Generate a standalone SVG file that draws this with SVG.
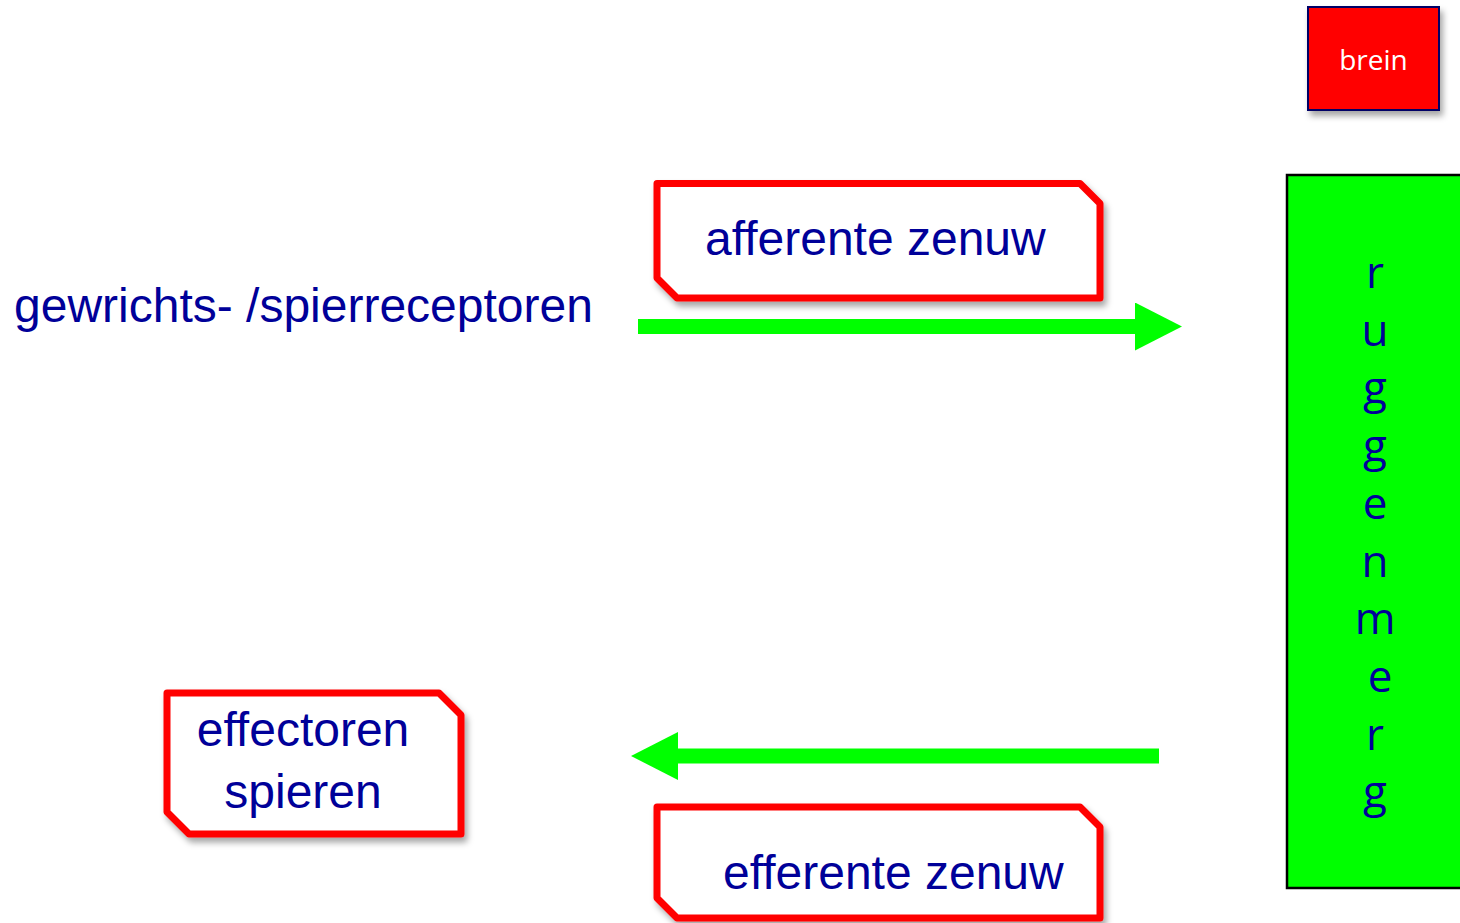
<svg xmlns="http://www.w3.org/2000/svg" width="1460" height="923" viewBox="0 0 1460 923">
  <defs>
    <filter id="shadow" x="-10%" y="-10%" width="130%" height="140%">
      <feDropShadow dx="3" dy="5" stdDeviation="3" flood-color="#000" flood-opacity="0.35"/>
    </filter>
    <marker id="head" viewBox="0 0 47 48" markerWidth="47" markerHeight="48" markerUnits="userSpaceOnUse" refX="0" refY="24" orient="auto">
      <path d="M0,0 L47,24 L0,48 Z" fill="#00FF00"/>
    </marker>
  </defs>
  <style>
    .label { font-family: "Liberation Sans", Arial, sans-serif; font-size: 48px; fill: #000099; }
    .callout { fill: #FFFFFF; stroke: #FF0000; stroke-width: 7; stroke-linejoin: round; }
    .nerve { stroke: #00FF00; stroke-width: 15; fill: none; }
    .cord { font-family: "Open Sans", sans-serif; font-size: 44px; fill: #000099; text-anchor: middle; }
  </style>

  <rect width="1460" height="923" fill="#FFFFFF"/>

  <!-- brain -->
  <g id="brein">
    <rect x="1308" y="7" width="131" height="103" fill="#FF0000" stroke="#000066" stroke-width="2" filter="url(#shadow)"/>
    <text x="1373.5" y="70" font-family="Open Sans, sans-serif" font-size="28" fill="#FFFFFF" text-anchor="middle">brein</text>
  </g>

  <!-- spinal cord -->
  <g id="ruggenmerg">
    <rect x="1287" y="175" width="180" height="713" fill="#00FF00" stroke="#000000" stroke-width="2.5"/>
    <text class="cord" x="1375" y="288">r</text>
    <text class="cord" x="1375" y="345.7">u</text>
    <text class="cord" x="1375" y="403.4">g</text>
    <text class="cord" x="1375" y="461.1">g</text>
    <text class="cord" x="1375" y="518.8">e</text>
    <text class="cord" x="1375" y="576.5">n</text>
    <text class="cord" x="1375" y="634.2">m</text>
    <text class="cord" x="1380" y="691.9">e</text>
    <text class="cord" x="1375" y="749.6">r</text>
    <text class="cord" x="1375" y="807.3">g</text>
  </g>

  <!-- receptors -->
  <g id="receptoren">
    <text class="label" x="14" y="322">gewrichts- /spierreceptoren</text>
  </g>

  <!-- afferent nerve label -->
  <g id="afferente-zenuw">
    <path class="callout" d="M657,183.5 H1080 L1100,203.5 V298 H677 L657,278 Z" filter="url(#shadow)"/>
    <text class="label" x="705" y="255">afferente zenuw</text>
  </g>

  <!-- effectors -->
  <g id="effectoren">
    <path class="callout" d="M167,693 H439 L461,715 V834 H189 L167,812 Z" filter="url(#shadow)"/>
    <text class="label" x="303" y="746" text-anchor="middle">effectoren</text>
    <text class="label" x="303" y="808" text-anchor="middle">spieren</text>
  </g>

  <!-- efferent nerve label -->
  <g id="efferente-zenuw">
    <path class="callout" d="M657,807 H1080 L1100,827 V918 H677 L657,898 Z" filter="url(#shadow)"/>
    <text class="label" x="723" y="889">efferente zenuw</text>
  </g>

  <!-- nerve pathways -->
  <g id="connectors">
    <line class="nerve" x1="638" y1="326.5" x2="1135" y2="326.5" marker-end="url(#head)"/>
    <line class="nerve" x1="1159" y1="756" x2="678" y2="756" marker-end="url(#head)"/>
  </g>
</svg>
